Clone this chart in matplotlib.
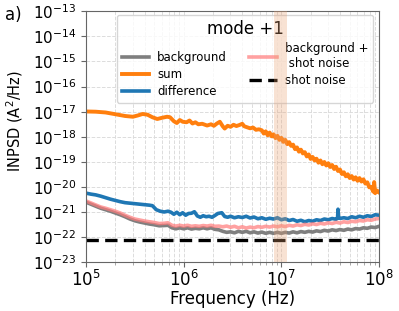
import numpy as np
import matplotlib
matplotlib.use("Agg")
import matplotlib.pyplot as plt
from matplotlib.ticker import LogLocator, NullLocator

# ---- data (log10 values) ----
sum_logf = [5.00, 5.10, 5.20, 5.30, 5.40, 5.48, 5.53, 5.58, 5.63, 5.68, 5.73, 5.78, 5.83, 5.86,
            5.90, 5.93, 5.96, 5.99, 6.03, 6.06, 6.09, 6.12, 6.15, 6.19, 6.24, 6.28, 6.31, 6.34,
            6.37, 6.40, 6.42, 6.45, 6.48, 6.51, 6.54, 6.57, 6.60, 6.62, 6.65, 6.68, 6.71, 6.74,
            6.77, 6.80, 6.82, 6.84, 6.86, 6.88, 6.90, 6.92, 6.94, 6.96, 6.98, 7.00, 7.02, 7.04,
            7.06, 7.08, 7.10, 7.12, 7.14, 7.16, 7.18, 7.20, 7.22, 7.24, 7.26, 7.28, 7.30, 7.32,
            7.34, 7.36, 7.38, 7.40, 7.42, 7.44, 7.46, 7.48, 7.50, 7.52, 7.54, 7.56, 7.58, 7.60,
            7.62, 7.64, 7.66, 7.68, 7.70, 7.72, 7.74, 7.76, 7.78, 7.80, 7.82, 7.84, 7.86, 7.88,
            7.90, 7.92, 7.94, 7.95, 7.96, 7.98, 8.00]
sum_logp = [-16.99, -17.00, -17.03, -17.10, -17.17, -17.20, -17.15, -17.09, -17.12, -17.22, -17.29,
            -17.24, -17.20, -17.22, -17.38, -17.45, -17.33, -17.40, -17.42, -17.35, -17.47, -17.42,
            -17.50, -17.48, -17.55, -17.50, -17.56, -17.47, -17.40, -17.58, -17.67, -17.56, -17.60,
            -17.52, -17.57, -17.53, -17.48, -17.58, -17.62, -17.66, -17.63, -17.72, -17.70,
            -17.74, -17.87, -17.78, -17.94, -17.83, -17.98, -17.90, -18.05, -17.96, -18.12, -18.04,
            -18.20, -18.12, -18.29, -18.21, -18.36, -18.31, -18.49, -18.42, -18.59, -18.51, -18.66,
            -18.61, -18.78, -18.70, -18.88, -18.80, -18.94, -18.87, -19.03, -18.94, -19.09, -19.00,
            -19.14, -19.05, -19.20, -19.12, -19.28, -19.19, -19.36, -19.30, -19.48, -19.41, -19.57,
            -19.49, -19.64, -19.56, -19.70, -19.61, -19.75, -19.64, -19.78, -19.69, -19.86, -19.81,
            -20.01, -19.99, -20.18, -19.80, -20.24, -20.14, -20.21]

diff_logf = [5.00, 5.05, 5.10, 5.15, 5.20, 5.25, 5.30, 5.35, 5.40, 5.45, 5.50, 5.55, 5.60, 5.65,
             5.68, 5.72, 5.76, 5.80, 5.84, 5.87, 5.90, 5.93, 5.96, 5.99, 6.02, 6.05, 6.08, 6.11,
             6.14, 6.17, 6.20, 6.23, 6.26, 6.29, 6.32, 6.35, 6.39, 6.42, 6.45, 6.48, 6.52, 6.56,
             6.60, 6.64, 6.68, 6.72, 6.76, 6.80, 6.84, 6.88, 6.92, 6.96, 7.00, 7.04, 7.08, 7.12,
             7.16, 7.20, 7.24, 7.28, 7.32, 7.36, 7.40, 7.44, 7.48, 7.52, 7.56, 7.575, 7.58, 7.585,
             7.61, 7.64, 7.68, 7.72, 7.76, 7.80, 7.84, 7.88, 7.92, 7.96, 8.00]
diff_logp = [-20.24, -20.28, -20.31, -20.36, -20.42, -20.48, -20.53, -20.58, -20.62, -20.64, -20.66,
             -20.68, -20.70, -20.72, -20.74, -20.90, -20.96, -20.99, -20.96, -21.00, -21.08, -21.00,
             -21.10, -21.02, -21.12, -21.05, -21.04, -20.98, -21.15, -21.20, -21.14, -21.18, -21.16,
             -21.20, -21.13, -21.05, -21.02, -21.17, -21.20, -21.16, -21.22, -21.18, -21.21, -21.16,
             -21.23, -21.19, -21.26, -21.22, -21.28, -21.24, -21.27, -21.22, -21.30, -21.26, -21.33,
             -21.29, -21.36, -21.32, -21.38, -21.33, -21.36, -21.30, -21.33, -21.27, -21.30, -21.25,
             -21.28, -21.24, -20.88, -21.24, -21.24, -21.22, -21.25, -21.18, -21.22, -21.16, -21.20,
             -21.14, -21.17, -21.10, -21.12]

bg_logf = [5.00, 5.05, 5.10, 5.15, 5.20, 5.25, 5.30, 5.35, 5.40, 5.45, 5.50, 5.55, 5.60, 5.65,
           5.70, 5.75, 5.80, 5.84, 5.88, 5.92, 5.96, 6.00, 6.04, 6.08, 6.12, 6.16, 6.20, 6.24,
           6.28, 6.32, 6.36, 6.40, 6.44, 6.48, 6.52, 6.56, 6.60, 6.64, 6.68, 6.72, 6.76, 6.80,
           6.84, 6.88, 6.92, 6.96, 7.00, 7.04, 7.08, 7.12, 7.16, 7.20, 7.24, 7.28, 7.32, 7.36,
           7.40, 7.44, 7.48, 7.52, 7.56, 7.60, 7.64, 7.68, 7.72, 7.76, 7.80, 7.84, 7.88, 7.92,
           7.96, 8.00]
bgshot_logp = [-20.55, -20.63, -20.71, -20.79, -20.84, -20.90, -20.96, -21.03, -21.12, -21.20,
               -21.27, -21.31, -21.35, -21.38, -21.41, -21.45, -21.44, -21.42, -21.52, -21.55,
               -21.52, -21.55, -21.52, -21.56, -21.54, -21.56, -21.53, -21.55, -21.52, -21.56,
               -21.55, -21.58, -21.55, -21.60, -21.56, -21.62, -21.58, -21.63, -21.59, -21.62,
               -21.57, -21.60, -21.56, -21.59, -21.55, -21.58, -21.54, -21.57, -21.52, -21.55,
               -21.50, -21.53, -21.48, -21.51, -21.46, -21.49, -21.44, -21.47, -21.42, -21.45,
               -21.40, -21.43, -21.38, -21.41, -21.36, -21.38, -21.33, -21.35, -21.30, -21.32,
               -21.27, -21.25]
bg_logp = [-20.60, -20.68, -20.76, -20.84, -20.90, -20.96, -21.03, -21.10, -21.18, -21.27, -21.34,
           -21.39, -21.43, -21.47, -21.50, -21.54, -21.53, -21.52, -21.62, -21.66, -21.62, -21.66,
           -21.62, -21.67, -21.64, -21.66, -21.62, -21.66, -21.62, -21.68, -21.70, -21.76, -21.80,
           -21.78, -21.82, -21.76, -21.80, -21.76, -21.82, -21.78, -21.83, -21.79, -21.84, -21.80,
           -21.84, -21.80, -21.84, -21.80, -21.83, -21.78, -21.82, -21.77, -21.80, -21.76, -21.79,
           -21.74, -21.77, -21.72, -21.75, -21.70, -21.73, -21.69, -21.72, -21.67, -21.70, -21.65,
           -21.67, -21.62, -21.64, -21.59, -21.61, -21.56]

shot_noise_level = 7.8e-23
band_range = [8.4e6, 1.14e7]

labels = ["background", "sum", "difference", "background +\n shot noise", "shot noise"]
legend_title = "mode +1"

# ---- figure ----
fig = plt.figure(figsize=(3.99, 3.11), dpi=100)
ax = fig.add_axes([0.2155, 0.156, 0.7345, 0.808])

def to_lin(a):
    return 10.0 ** np.asarray(a)

ax.plot(to_lin(bg_logf), to_lin(bg_logp), color="tab:gray", lw=2.6, label=labels[0])
ax.plot(to_lin(sum_logf), to_lin(sum_logp), color="tab:orange", lw=2.8, label=labels[1])
ax.plot(to_lin(diff_logf), to_lin(diff_logp), color="tab:blue", lw=2.6, label=labels[2])
ax.plot(to_lin(bg_logf), to_lin(bgshot_logp), color="#ff7a7a", alpha=0.7, lw=2.6, label=labels[3])
ax.plot([1e5, 1e8], [shot_noise_level, shot_noise_level], color="black", lw=2.4,
        ls=(0, (3.7, 1.9)), label=labels[4])
ax.axvspan(band_range[0], band_range[1], color="#e8a070", alpha=0.3, lw=0, zorder=10)

ax.set_xscale("log")
ax.set_yscale("log")
ax.set_xlim(1e5, 1e8)
ax.set_ylim(1e-23, 1e-13)
ax.yaxis.set_major_locator(LogLocator(base=10, numticks=20))
ax.yaxis.set_minor_locator(NullLocator())

ax.grid(which="both", ls="--", color="#dcdcdc", lw=0.7)
ax.set_axisbelow(True)

for s in ax.spines.values():
    s.set_color("0.4")
ax.tick_params(axis="both", which="major", color="0.4", length=3.5)
ax.tick_params(axis="x", which="major", labelsize=12, pad=2)
ax.tick_params(axis="y", which="major", labelsize=11)
ax.tick_params(axis="x", which="minor", color="0.6", length=2.5)

ax.set_xlabel("Frequency (Hz)", fontsize=12, labelpad=0)
ax.set_ylabel(r"INPSD (A$^2$/Hz)", fontsize=10.5)
ax.yaxis.set_label_coords(-0.208, 0.562)

leg = ax.legend(ncol=2, title=legend_title, fontsize=8.5, title_fontsize=12,
                loc="upper right", bbox_to_anchor=(0.9795, 0.985), borderaxespad=0,
                handlelength=2.3, handletextpad=0.7, columnspacing=1.9,
                labelspacing=0.35, borderpad=0.4, framealpha=0.8)

fig.text(13.5 / 399, 1 - 15.5 / 311, "a)", fontsize=12, va="center", ha="center")

fig.savefig("out.png", dpi=100)
